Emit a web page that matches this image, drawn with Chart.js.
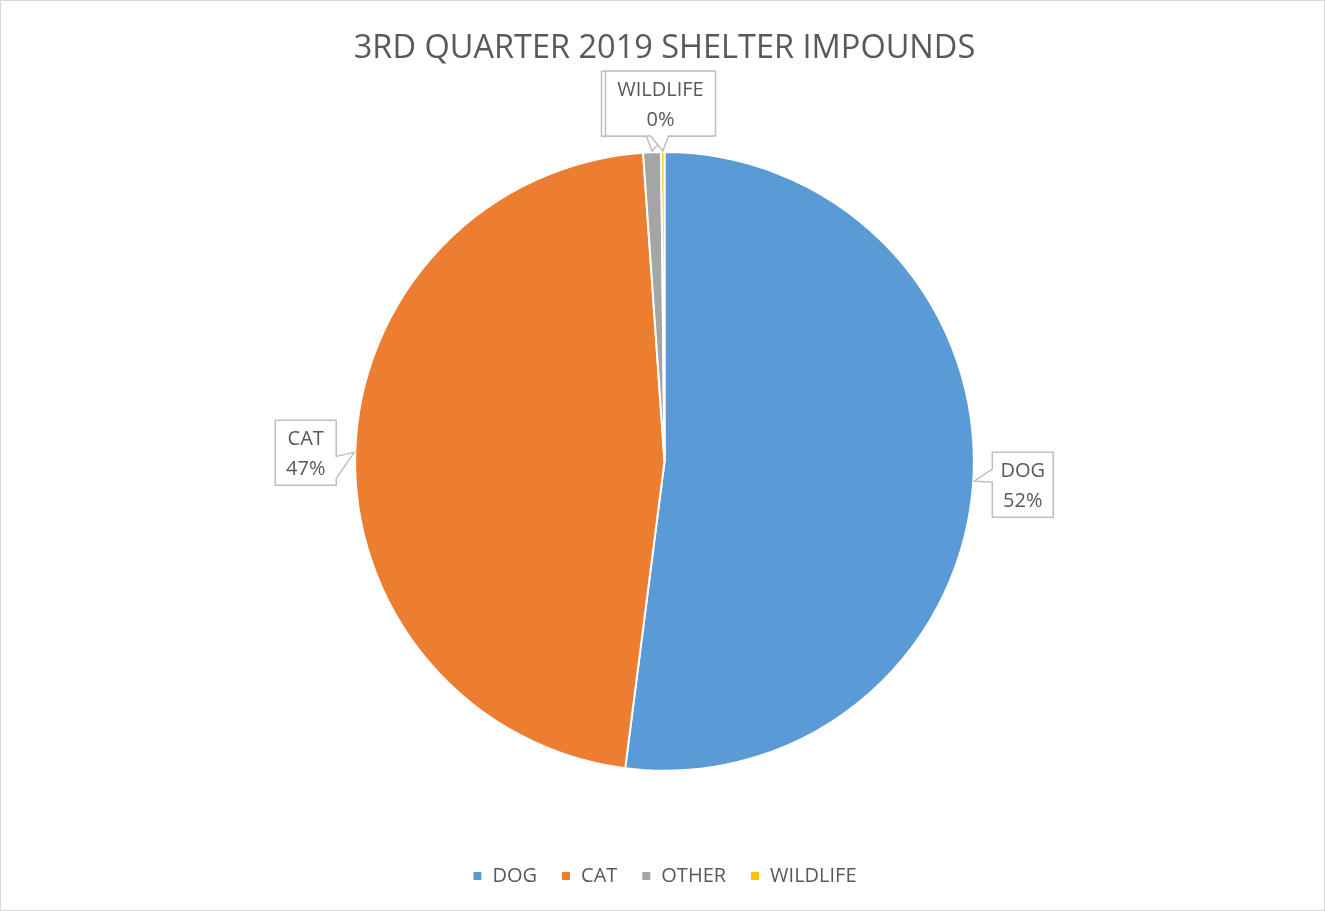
<!DOCTYPE html>
<html>
<head>
<meta charset="utf-8">
<script src="https://cdn.jsdelivr.net/npm/chart.js@4"></script>
<style>
  html, body { margin: 0; padding: 0; background: #fff; }
  #wrap { width: 1323px; height: 909px; border: 1px solid #d9d9d9; }
</style>
</head>
<body>
<div id="wrap"><canvas id="chart" width="1323" height="909"></canvas></div>
<script>
var ctx = document.getElementById('chart').getContext('2d')

const categories = ['DOG', 'CAT', 'OTHER', 'WILDLIFE']
const impounds = [1180, 1063, 21, 4]
const colors = ['#5B9BD5', '#ED7D31', '#A5A5A5', '#FFC000']

const FONT = "'Open Sans', 'Noto Sans', sans-serif"

function pct(i) {
  const total = impounds.reduce((a, b) => a + b, 0)
  return Math.round(impounds[i] / total * 100) + '%'
}

// Excel style callout boxes next to the slices
// (the OTHER box ends up hidden behind the WILDLIFE one, like in the original)
const calloutPlugin = {
  id: 'callouts',
  afterDatasetsDraw(chart) {
    const c = chart.ctx
    const meta = chart.getDatasetMeta(0)
    c.save()
    c.font = '20px ' + FONT
    c.textAlign = 'center'
    c.textBaseline = 'middle'
    meta.data.forEach((arc, i) => {
      const mid = (arc.startAngle + arc.endAngle) / 2
      const r = arc.outerRadius
      const ax = arc.x + Math.cos(mid) * (r + 1)
      const ay = arc.y + Math.sin(mid) * (r + 1)
      const w = categories[i].length > 4 ? 110 : 61
      const h = 65
      let bx, by, pts
      if (Math.cos(mid) > 0.5) {
        // right side, pointer on left edge
        bx = ax + 18
        by = ay - 29
        pts = [[bx, by], [bx + w, by], [bx + w, by + h], [bx, by + h],
               [bx, ay + 1], [ax, ay], [bx, ay - 12]]
      } else if (Math.cos(mid) < -0.5) {
        // left side, pointer on right edge
        bx = ax - 18 - w
        by = ay - 32
        pts = [[bx, by], [bx + w, by], [bx + w, ay + 4], [ax, ay],
               [bx + w, ay + 26], [bx + w, by + h], [bx, by + h]]
      } else {
        // above the pie, pointer on bottom edge
        bx = arc.x - w / 2 - 4 - 4 * (categories.length - 1 - i)
        by = ay - 15 - h
        const cx = bx + w / 2
        pts = [[bx, by], [bx + w, by], [bx + w, by + h], [cx + 8, by + h],
               [ax, ay], [cx - 10, by + h], [bx, by + h]]
      }
      c.beginPath()
      pts.forEach((p, k) => (k ? c.lineTo(p[0], p[1]) : c.moveTo(p[0], p[1])))
      c.closePath()
      c.fillStyle = '#ffffff'
      c.fill()
      c.strokeStyle = '#bfbfbf'
      c.lineWidth = 1.5
      c.stroke()
      c.fillStyle = '#595959'
      c.fillText(categories[i], bx + w / 2, by + 19)
      c.fillText(pct(i), bx + w / 2, by + 49)
    })
    c.restore()
  }
}

const chart = new Chart(ctx, {
  type: 'pie',
  data: {
    labels: categories,
    datasets: [
      {
        data: impounds,
        backgroundColor: colors,
        borderColor: '#ffffff',
        borderWidth: 2,
      },
    ],
  },
  options: {
    responsive: false,
    animation: false,
    layout: { padding: { top: 0, bottom: 14, left: 4, right: 0 } },
    plugins: {
      title: {
        display: true,
        text: '3RD QUARTER 2019 SHELTER IMPOUNDS',
        color: '#595959',
        font: { family: FONT, size: 32.5, weight: 'normal' },
        padding: { top: 28, bottom: 83 },
      },
      legend: {
        position: 'bottom',
        title: { display: true, text: '', font: { size: 1 }, padding: { top: 0, bottom: 69 } },
        labels: {
          color: '#595959',
          font: { family: FONT, size: 20 },
          boxWidth: 10,
          boxHeight: 10,
          padding: 24,
        },
      },
      tooltip: { enabled: false },
    },
  },
  plugins: [calloutPlugin],
})
</script>
</body>
</html>
